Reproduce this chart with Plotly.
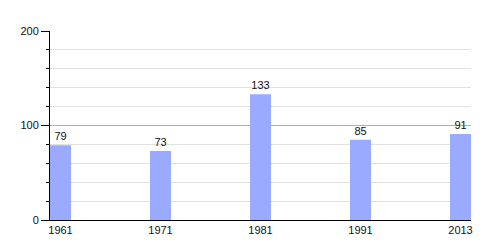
import plotly.graph_objects as go

years = ["1961", "1971", "1981", "1991", "2013"]
values = [79, 73, 133, 85, 91]

fig = go.Figure(go.Bar(
    x=years, y=values, width=0.21,
    marker=dict(color="#99aaff", line=dict(width=0)),
    text=[str(v) for v in values], textposition="outside",
    textfont=dict(size=11, color="#111"), cliponaxis=False,
))
fig.update_layout(
    width=500, height=250,
    margin=dict(l=50, r=29, t=31, b=30),
    paper_bgcolor="white", plot_bgcolor="white",
    font=dict(family="Liberation Sans, Arial, sans-serif", size=11, color="#111"),
    showlegend=False,
    xaxis=dict(type="category", range=[-0.105, 4.105], showgrid=False,
               showline=True, linecolor="black", linewidth=1, ticks="",
               ticklen=0, tickfont=dict(size=11)),
    yaxis=dict(range=[0, 200], dtick=100, tick0=0, showline=True,
               linecolor="black", linewidth=1, ticks="outside", ticklen=8,
               tickcolor="black", gridcolor="#b0b0b0", zeroline=False,
               tickfont=dict(size=11),
               minor=dict(dtick=20, ticks="outside", ticklen=3,
                          tickcolor="black", showgrid=True,
                          gridcolor="#e2e2e2")),
)
fig.write_html("out.html")
